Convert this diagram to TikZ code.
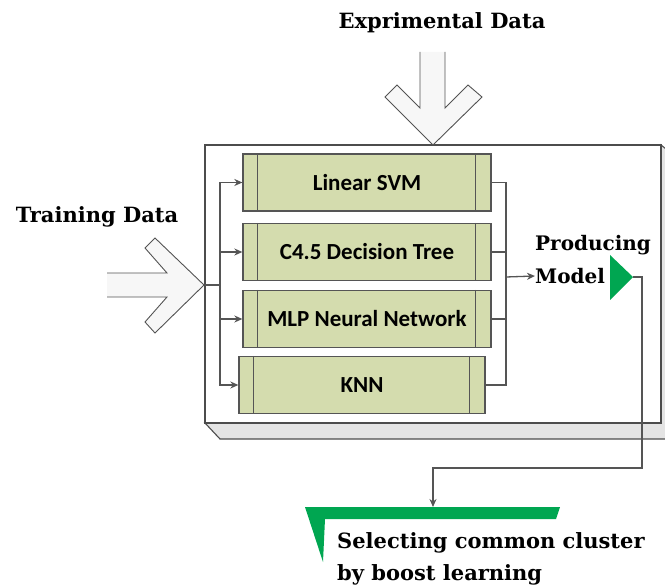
\documentclass[tikz,border=0pt]{standalone}
\usepackage{fontspec}
\setmainfont{DejaVu Serif}
\newfontfamily\boxfont{Carlito}
\usetikzlibrary{arrows.meta}
\definecolor{boxfill}{HTML}{D4DCAE}
\definecolor{linec}{HTML}{555555}
\definecolor{tgreen}{HTML}{00A651}
\definecolor{basefill}{HTML}{E4E4E4}
\begin{document}
\begin{tikzpicture}[x=1pt,y=-1pt,
  model/.style={draw=linec, line width=1.3pt, fill=boxfill, minimum width=248pt, minimum height=57pt,
    font=\boxfont\bfseries\fontsize{23}{27}\selectfont, inner sep=0pt},
  conn/.style={draw=linec, line width=1.3pt},
  arr/.style={conn, -{Stealth[length=8pt,width=7pt]}},
  title/.style={font=\bfseries\fontsize{21}{32}\selectfont, inner sep=0pt},
  smalltitle/.style={title, font=\bfseries\fontsize{20}{24}\selectfont, anchor=west},
  hollowfill/.style={fill=gray!6},
  hollowline/.style={draw=gray!65!black, line width=0.9pt, line join=miter},
  mainbox/.style={draw=gray!60!black, line width=1.3pt, fill=white, minimum width=456pt, minimum height=278pt, inner sep=0pt},
  basebox/.style={draw=gray!60!black, line width=1.1pt, fill=basefill}]
\useasboundingbox (0,0) rectangle (665,588);

% 3D base of the main box
\path[basebox] (205,423) -- (220,439) -- (666,439) -- (666,149) -- (661,145) -- (661,423) -- cycle;
\node[mainbox] (main) at (433,284) {};

% model boxes
\node[model] (svm) at (367,182.5) {Linear SVM};
\node[model] (c45) at (367,252) {C4.5 Decision Tree};
\node[model] (mlp) at (367,319) {MLP Neural Network};
\node[model, minimum width=246pt] (knn) at (362,385) {KNN};
\foreach \n in {svm,c45,mlp,knn}{
  \draw[conn] ([xshift=15pt]\n.north west) -- ([xshift=15pt]\n.south west);
  \draw[conn] ([xshift=-16pt]\n.north east) -- ([xshift=-16pt]\n.south east);
}

% titles
\node[title] (exp) at (442,23) {Exprimental Data};
\node[title] (train) at (97,217) {Training Data};
\node[smalltitle] (prod) at (535,245) {Producing};
\node[smalltitle] (mdl) at (535,276) {Model};
\node[title, align=left, anchor=west] (selt) at (337,559) {Selecting common cluster\\by boost learning};

% hollow input arrows
\fill[hollowfill] (420,52) -- (420,108) -- (397,85) -- (385,97) -- (433,145) -- (482,97) -- (468,85) -- (445,108) -- (445,52) -- cycle;
\draw[hollowline] (420,52) -- (420,108) -- (397,85) -- (385,97) -- (433,145) -- (482,97) -- (468,85) -- (445,108) -- (445,52);
\fill[hollowfill] (107,273) -- (167,273) -- (145,248) -- (155,238) -- (204,285) -- (155,333) -- (145,322) -- (167,297) -- (107,297) -- cycle;
\draw[hollowline] (107,273) -- (167,273) -- (145,248) -- (155,238) -- (204,285) -- (155,333) -- (145,322) -- (167,297) -- (107,297);

% left bus
\coordinate (tin) at (205,285);
\coordinate (bus) at (220,285);
\draw[conn, line width=2.6pt] (tin) -- (bus);
\foreach \n in {svm,c45,mlp,knn} \draw[arr] (bus) |- (\n.west);

% right bus
\coordinate (rbus) at (506,277);
\foreach \n in {svm,c45,mlp,knn} \draw[conn] (\n.east) -| (rbus);
\draw[arr] (rbus) -- (mdl.west);

% producing model marker and output
\coordinate (tri) at (633,277);
\fill[tgreen] (610,255) -- (tri) -- (610,300) -- cycle;
\coordinate (turn) at (642,468);
\coordinate (sel) at (433,507);
\draw[arr] (tri) -| (turn) -| (sel);

% selection flag
\fill[tgreen] (305,507) -- (560,507) -- (556,519) -- (325,519) -- (323,562) -- cycle;
\end{tikzpicture}
\end{document}
